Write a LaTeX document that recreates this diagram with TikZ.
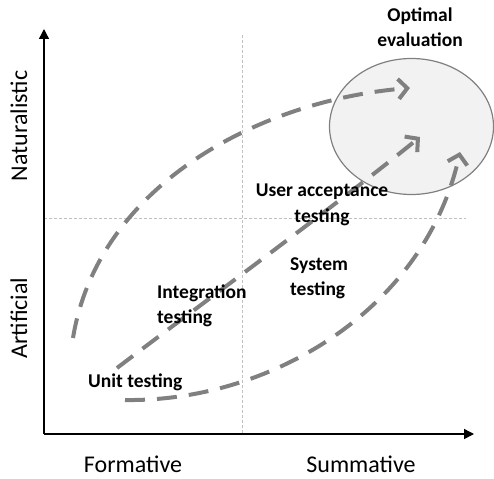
\documentclass[tikz,border=0pt]{standalone}
\usepackage{fontspec}
\setmainfont{Carlito}
\usetikzlibrary{arrows.meta,shapes.geometric}
\definecolor{pathgray}{HTML}{808080}
\definecolor{guidegray}{HTML}{C0C0C0}
\definecolor{zonefill}{HTML}{F2F2F2}
\tikzset{
  axisline/.style={line width=1.4pt,-{Triangle[length=10pt,width=10pt]}},
  guideline/.style={guidegray,line width=0.8pt,dash pattern=on 3pt off 2pt},
  stagepath/.style={pathgray,line width=4pt,dash pattern=on 20pt off 12pt,
    -{Straight Barb[length=9pt,width=20pt]}},
  stagelabel/.style={font=\fontsize{19.5}{25}\selectfont\bfseries,inner sep=0pt},
  axislabel/.style={font=\fontsize{24}{28}\selectfont,inner sep=0pt},
}
\begin{document}
\begin{tikzpicture}[x=1pt,y=-1pt]
\useasboundingbox (0,0) rectangle (494,478);

% target zone
\node[ellipse,draw=pathgray,fill=zonefill,line width=1.2pt,
  minimum width=164pt,minimum height=136pt,inner sep=0pt] (optimal) at (411.5,126.5) {};
\node[stagelabel,align=center,anchor=base] (optlabel) at (420,47) {Optimal\\evaluation};

% quadrant guides
\coordinate (vtop) at (242,35);
\coordinate (vbot) at (242,434);
\coordinate (hleft) at (44,218);
\coordinate (hright) at (466,218);
\draw[guideline] (vtop) -- (vbot);
\draw[guideline] (hleft) -- (hright);

% axes
\coordinate (origin) at (44,434);
\coordinate (ytip) at (44,29);
\coordinate (xtip) at (474,434);
\draw[axisline] (origin) -- (ytip);
\draw[axisline] (origin) -- (xtip);

% testing stages
\coordinate (s1) at (73,338);
\coordinate (e1) at (410,88);
\coordinate (s2) at (117,368);
\coordinate (e2) at (420,137);
\coordinate (s3) at (125,400);
\coordinate (e3) at (460,152);
\draw[stagepath] (s1) .. controls (98,185) and (260,100) .. (e1);
\draw[stagepath] (s2) .. controls (180,320) and (330,210) .. (e2);
\draw[stagepath] (s3) .. controls (270,402) and (425,310) .. (e3);

% stage labels
\node[stagelabel,align=center,anchor=base] (uat) at (322,222) {User acceptance\\testing};
\node[stagelabel,align=left,anchor=base west] (sys) at (290,295) {System\\testing};
\node[stagelabel,align=left,anchor=base west] (integ) at (157,323) {Integration\\testing};
\node[stagelabel,anchor=base west] (unit) at (88,387) {Unit testing};

% axis labels
\node[axislabel,anchor=base] (formative) at (133,472) {Formative};
\node[axislabel,anchor=base] (summative) at (361,472) {Summative};
\node[axislabel,anchor=base,rotate=90] (naturalistic) at (27,126) {Naturalistic};
\node[axislabel,anchor=base,rotate=90] (artificial) at (27,318) {Artificial};
\end{tikzpicture}
\end{document}
